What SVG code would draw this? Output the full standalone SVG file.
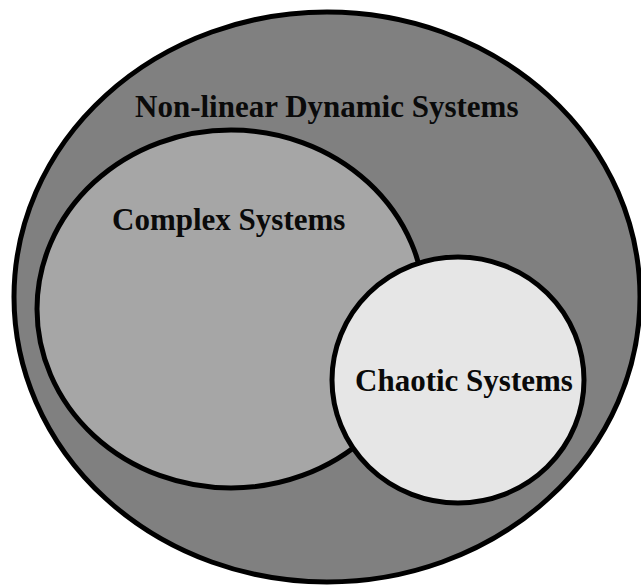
<svg xmlns="http://www.w3.org/2000/svg" width="641" height="586" viewBox="0 0 641 586">
  <style>
    .set { stroke: #000; stroke-width: 5; }
    .label { font-family: "Liberation Serif", "Times New Roman", serif; font-weight: bold; font-size: 31px; fill: #0a0a0a; }
  </style>
  <rect width="641" height="586" fill="#fff"/>
  <g id="nonlinear">
    <ellipse class="set" cx="327" cy="297" rx="313" ry="285" fill="#808080"/>
    <text class="label" x="135" y="117">Non-linear Dynamic Systems</text>
  </g>
  <g id="complex">
    <ellipse class="set" cx="231" cy="309" rx="194" ry="179" fill="#a6a6a6"/>
    <text class="label" x="112" y="230">Complex Systems</text>
  </g>
  <g id="chaotic">
    <ellipse class="set" cx="458" cy="380" rx="126" ry="123" fill="#e6e6e6"/>
    <text class="label" x="355" y="391">Chaotic Systems</text>
  </g>
  <g id="connectors"/>
</svg>
